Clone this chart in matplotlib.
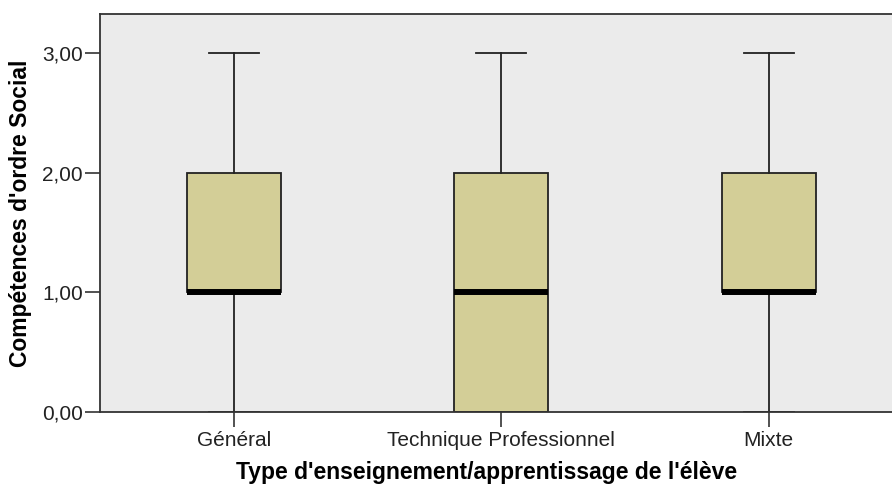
import matplotlib
matplotlib.use("Agg")
import matplotlib.pyplot as plt

categories = ["Général", "Technique Professionnel", "Mixte"]
whisker_low = [0.0, 0.0, 0.0]
q1 = [1.0, 0.0, 1.0]
median = [1.0, 1.0, 1.0]
q3 = [2.0, 2.0, 2.0]
whisker_high = [3.0, 3.0, 3.0]
yticks = [0.0, 1.0, 2.0, 3.0]
ytick_labels = ["0,00", "1,00", "2,00", "3,00"]

plt.rcParams['font.family'] = ['Liberation Sans', 'DejaVu Sans']

fig = plt.figure(figsize=(8.92, 4.84), dpi=100)
ax = fig.add_axes([100/892, (484-412)/484, 802.5/892, 398/484])
ax.set_facecolor("#EBEBEB")

stats = []
for i, c in enumerate(categories):
    stats.append(dict(label=c, whislo=whisker_low[i], q1=q1[i], med=median[i],
                      q3=q3[i], whishi=whisker_high[i], fliers=[]))

edge = "#222222"
ax.bxp(stats, positions=[1, 2, 3], widths=0.353, capwidths=0.187,
       showfliers=False, patch_artist=True,
       boxprops=dict(facecolor="#D3CE97", edgecolor=edge, linewidth=1.3),
       medianprops=dict(color="black", linewidth=4.3, solid_capstyle="butt"),
       whiskerprops=dict(color=edge, linewidth=1.3),
       capprops=dict(color=edge, linewidth=1.3))

ax.set_xlim(0.5, 3.5)
ax.set_ylim(0, 3.33)
ax.set_yticks(yticks)
ax.set_yticklabels(ytick_labels, fontsize=15, color="#222222")
ax.set_xticks([1, 2, 3])
ax.set_xticklabels(categories, fontsize=15, color="#222222")
ax.tick_params(axis="y", length=10.5, width=1.1, color=edge, pad=2)
ax.tick_params(axis="x", length=10.5, width=1.1, color=edge, pad=3.5)

for s in ax.spines.values():
    s.set_color("#333333")
    s.set_linewidth(1.3)

ax.set_ylabel("Compétences d'ordre Social", fontsize=16.5, fontweight="bold")
ax.yaxis.set_label_coords(-79/802.5, 0.5)
ax.set_xlabel("Type d'enseignement/apprentissage de l'élève", fontsize=16.5,
              fontweight="bold")
ax.xaxis.set_label_coords((487-100)/802.5, -(473-412)/398)
ax.xaxis.label.set_va("center")
ax.yaxis.label.set_va("center")

fig.savefig("out.png", dpi=100)
